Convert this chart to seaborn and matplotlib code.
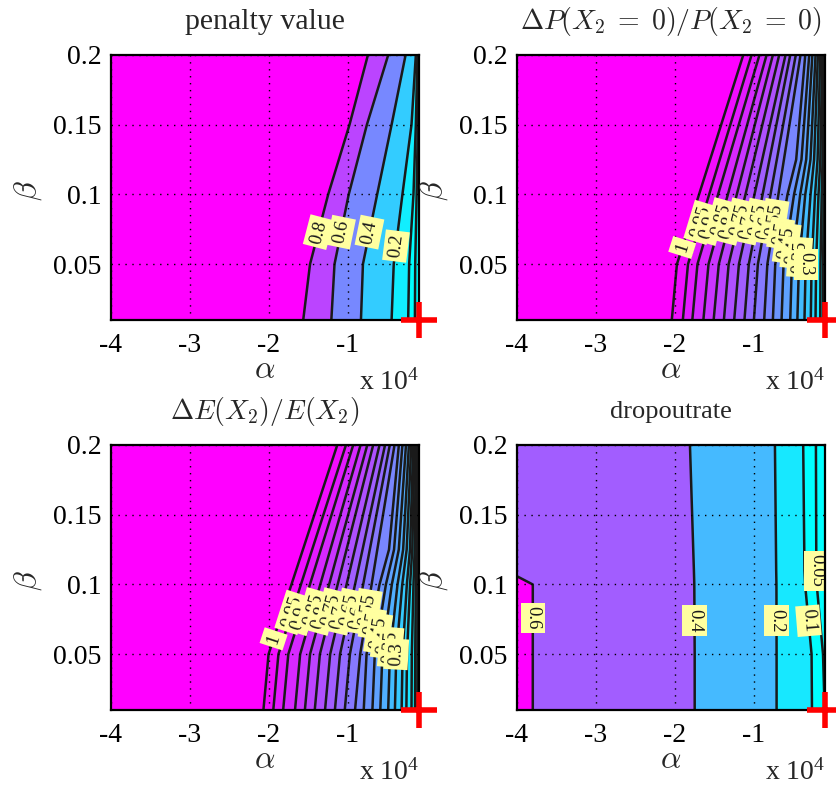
import numpy as np
import matplotlib
matplotlib.use("Agg")
import matplotlib.pyplot as plt
from matplotlib import font_manager as fm
import seaborn as sns

# ---------------- data (alpha in units of 1e4) ----------------
x_ticks = [-4, -3, -2, -1]
y_ticks = [0.05, 0.1, 0.15, 0.2]
alpha_min, alpha_max = -4.0, -0.1
beta_min, beta_max = 0.01, 0.2
cross_alpha = [alpha_max]
cross_beta = [beta_min]

# Panel 1: penalty value -- alpha where each contour level is crossed, per beta row
p1_title = "penalty value"
p1_beta = [0.01, 0.05, 0.10, 0.15, 0.20]
p1_levels = [0.8, 0.6, 0.4, 0.2, 0.1, 0.05]
p1_cross = [
    [-1.566, -1.21, -0.835, -0.447, -0.237, -0.152],
    [-1.48, -1.17, -0.81, -0.42, -0.225, -0.148],
    [-1.25, -0.99, -0.63, -0.31, -0.17, -0.13],
    [-0.98, -0.76, -0.447, -0.195, -0.14, -0.115],
    [-0.747, -0.49, -0.27, -0.14, -0.12, -0.108],
]
p1_edge_values = [0.9, 0.0]
p1_label_pos = [(-1.374, 0.073), (-1.087, 0.073), (-0.727, 0.073), (-0.391, 0.063)]

# Panel 2: dP(X2=0)/P(X2=0)
p2_title = r"$\Delta P(X_2\;=\;0)/P(X_2\;=\;0)$"
p2_beta = [0.01, 0.05, 0.10, 0.125, 0.20]
p2_levels = [1.0, 0.95, 0.9, 0.85, 0.8, 0.75, 0.7, 0.65, 0.6, 0.55,
             0.5, 0.45, 0.4, 0.35, 0.3, 0.25, 0.2, 0.15, 0.1, 0.05]
p2_cross = [
    [-2.04, -1.90, -1.78, -1.64, -1.51, -1.38, -1.25, -1.12, -1.00, -0.87,
     -0.76, -0.65, -0.54, -0.45, -0.36, -0.28, -0.22, -0.16, -0.125, -0.108],
    [-1.975, -1.835, -1.715, -1.575, -1.445, -1.32, -1.19, -1.065, -0.95, -0.83,
     -0.73, -0.625, -0.52, -0.43, -0.345, -0.27, -0.213, -0.157, -0.123, -0.107],
    [-1.695, -1.567, -1.454, -1.33, -1.217, -1.107, -0.993, -0.89, -0.79, -0.69,
     -0.575, -0.492, -0.414, -0.35, -0.283, -0.226, -0.182, -0.142, -0.118, -0.106],
    [-1.555, -1.433, -1.323, -1.208, -1.103, -1.00, -0.895, -0.803, -0.71, -0.62,
     -0.465, -0.398, -0.338, -0.284, -0.238, -0.194, -0.159, -0.131, -0.114, -0.105],
    [-1.135, -1.03, -0.93, -0.84, -0.76, -0.68, -0.60, -0.54, -0.47, -0.41,
     -0.35, -0.30, -0.26, -0.22, -0.19, -0.16, -0.135, -0.12, -0.11, -0.104],
]
p2_edge_values = [1.05, 0.0]
p2_label_pos = [(-1.908, 0.062), (-1.674, 0.080), (-1.579, 0.076), (-1.418, 0.082),
                (-1.326, 0.076), (-1.184, 0.082), (-1.088, 0.076), (-0.953, 0.082),
                (-0.867, 0.076), (-0.740, 0.082), (-0.662, 0.072), (-0.585, 0.065),
                (-0.503, 0.058), (-0.422, 0.055), (-0.345, 0.050)]

# Panel 3: dE(X2)/E(X2)
p3_title = r"$\Delta E(X_2)/E(X_2)$"
p3_beta = [0.01, 0.05, 0.10, 0.125, 0.20]
p3_levels = [1.0, 0.95, 0.9, 0.85, 0.8, 0.75, 0.7, 0.65, 0.6, 0.55,
             0.5, 0.45, 0.4, 0.35, 0.3, 0.25, 0.2, 0.15, 0.1, 0.05]
p3_cross = [
    [-2.07, -1.945, -1.82, -1.67, -1.545, -1.42, -1.29, -1.165, -1.04, -0.91,
     -0.80, -0.69, -0.59, -0.49, -0.405, -0.32, -0.26, -0.195, -0.15, -0.12],
    [-2.005, -1.88, -1.755, -1.605, -1.48, -1.355, -1.225, -1.10, -0.975, -0.845,
     -0.764, -0.66, -0.564, -0.469, -0.388, -0.308, -0.252, -0.191, -0.148, -0.12],
    [-1.715, -1.595, -1.481, -1.35, -1.238, -1.13, -1.017, -0.91, -0.807, -0.70,
     -0.60, -0.519, -0.444, -0.372, -0.312, -0.254, -0.213, -0.17, -0.14, -0.117],
    [-1.57, -1.453, -1.344, -1.223, -1.118, -1.018, -0.913, -0.815, -0.723, -0.628,
     -0.48, -0.416, -0.356, -0.301, -0.256, -0.214, -0.185, -0.155, -0.133, -0.116],
    [-1.135, -1.025, -0.933, -0.84, -0.755, -0.68, -0.60, -0.53, -0.47, -0.41,
     -0.355, -0.31, -0.265, -0.228, -0.198, -0.173, -0.156, -0.139, -0.127, -0.114],
]
p3_edge_values = [1.05, 0.0]
p3_label_pos = [(-1.941, 0.061), (-1.709, 0.080), (-1.613, 0.076), (-1.442, 0.082),
                (-1.354, 0.076), (-1.211, 0.082), (-1.117, 0.076), (-0.978, 0.082),
                (-0.888, 0.076), (-0.752, 0.082), (-0.692, 0.072), (-0.618, 0.065),
                (-0.545, 0.058), (-0.459, 0.055), (-0.388, 0.050)]

# Panel 4: dropout rate
p4_title = "dropoutrate"
p4_beta = [0.01, 0.05, 0.10, 0.11, 0.20]
p4_levels = [0.6, 0.4, 0.2, 0.1, 0.05]
p4_cross = [
    [-3.80, -1.75, -0.713, -0.265, -0.105],
    [-3.80, -1.75, -0.713, -0.27, -0.125],
    [-3.80, -1.755, -0.715, -0.352, -0.205],
    [-4.14, -1.76, -0.718, -0.36, -0.21],
    [-4.30, -1.81, -0.734, -0.376, -0.215],
]
p4_left_alpha = -4.5
p4_edge_values = [0.65, 0.0]
p4_label_pos = [(-3.80, 0.076), (-1.752, 0.074), (-0.714, 0.074), (-0.309, 0.074), (-0.21, 0.110)]

# ---------------- style ----------------
for f in fm.findSystemFonts():
    if "liberation" in f.lower() and "serif" in f.lower().replace("sans", ""):
        try:
            fm.fontManager.addfont(f)
        except Exception:
            pass

sns.set_theme(style="white")
SERIF = ["Liberation Serif", "DejaVu Serif"]
plt.rcParams.update({
    "font.family": SERIF,
    "font.serif": SERIF,
    "mathtext.fontset": "cm",
    "axes.unicode_minus": False,
    "axes.edgecolor": "black",
    "axes.linewidth": 1.6,
})
cool = sns.color_palette("cool", as_cmap=True)

fig = plt.figure(figsize=(8.37, 7.89), dpi=100)
W, H = 837.0, 789.0


def panel(px_left, px_top, title, betas, levels, cross, edge_vals, lab_pos,
          left_alpha=alpha_min, title_size=20):
    ax = fig.add_axes([px_left / W, 1 - (px_top + 265) / H, 308 / W, 265 / H])
    X = np.array([[left_alpha] + list(r) + [alpha_max] for r in cross])
    Y = np.repeat(np.array(betas)[:, None], X.shape[1], axis=1)
    Z = np.array([[edge_vals[0]] + list(levels) + [edge_vals[1]] for _ in betas])
    lv = sorted(levels)
    lo, hi = lv[0], lv[-1]
    fill_levels = [edge_vals[1]] + lv + [edge_vals[0]]
    colors = [cool(0.0)] + [cool((l - lo) / (hi - lo)) for l in lv]
    ax.contourf(X, Y, Z, levels=fill_levels, colors=colors, zorder=1)
    cs = ax.contour(X, Y, Z, levels=lv, colors="k", linewidths=1.8, zorder=2)
    ax.clabel(cs, inline=False, fontsize=13.5, fmt=lambda v: f"{v:g}",
              manual=lab_pos, colors="k")
    for t in cs.labelTexts:
        t.set_fontfamily(SERIF)
        t.set_bbox(dict(facecolor="#ffffa0", edgecolor="none", pad=2.6))
        t.set_zorder(5)
        r = t.get_rotation() % 360
        if abs(r - 90) < 3 or abs(r - 270) < 3:
            t.set_rotation(-90)
    ax.plot(cross_alpha, cross_beta, marker="+", color="red", ms=26, mew=4,
            ls="none", clip_on=False, zorder=10)
    ax.set_xlim(alpha_min, alpha_max)
    ax.set_ylim(beta_min, beta_max)
    ax.set_xticks(x_ticks)
    ax.set_yticks(y_ticks)
    ax.set_xticklabels([f"{v:g}" for v in x_ticks])
    ax.set_yticklabels([f"{v:g}" for v in y_ticks])
    ax.tick_params(axis="both", labelsize=20, direction="in", length=4, width=1,
                   colors="black")
    for lab in ax.get_xticklabels() + ax.get_yticklabels():
        lab.set_fontfamily(SERIF)
    ax.tick_params(axis="x", pad=9)
    ax.tick_params(axis="y", pad=7)
    ax.set_axisbelow(False)
    ax.grid(True, linestyle=(0, (1, 4)), color="black", linewidth=1.0)
    for s in ax.spines.values():
        s.set_zorder(6)
    ax.text(0.5, 1.125, title, transform=ax.transAxes, ha="center", va="center",
            fontsize=title_size, family=SERIF)
    ax.text(0.5, -0.19, r"$\alpha$", transform=ax.transAxes, ha="center",
            va="center", fontsize=23)
    ax.text(-0.27, 0.49, r"$\beta$", transform=ax.transAxes, ha="center",
            va="center", fontsize=23, rotation=90)
    ax.text(1.0, -0.262, r"x $\mathregular{10^4}$", transform=ax.transAxes,
            ha="right", va="baseline", fontsize=20, family=SERIF)
    return ax


panel(111, 55, p1_title, p1_beta, p1_levels, p1_cross, p1_edge_values, p1_label_pos,
      title_size=21.5)
panel(517, 55, p2_title, p2_beta, p2_levels, p2_cross, p2_edge_values, p2_label_pos)
panel(111, 445, p3_title, p3_beta, p3_levels, p3_cross, p3_edge_values, p3_label_pos)
panel(517, 445, p4_title, p4_beta, p4_levels, p4_cross, p4_edge_values, p4_label_pos,
      left_alpha=p4_left_alpha, title_size=19)

fig.savefig("out.png", dpi=100)
